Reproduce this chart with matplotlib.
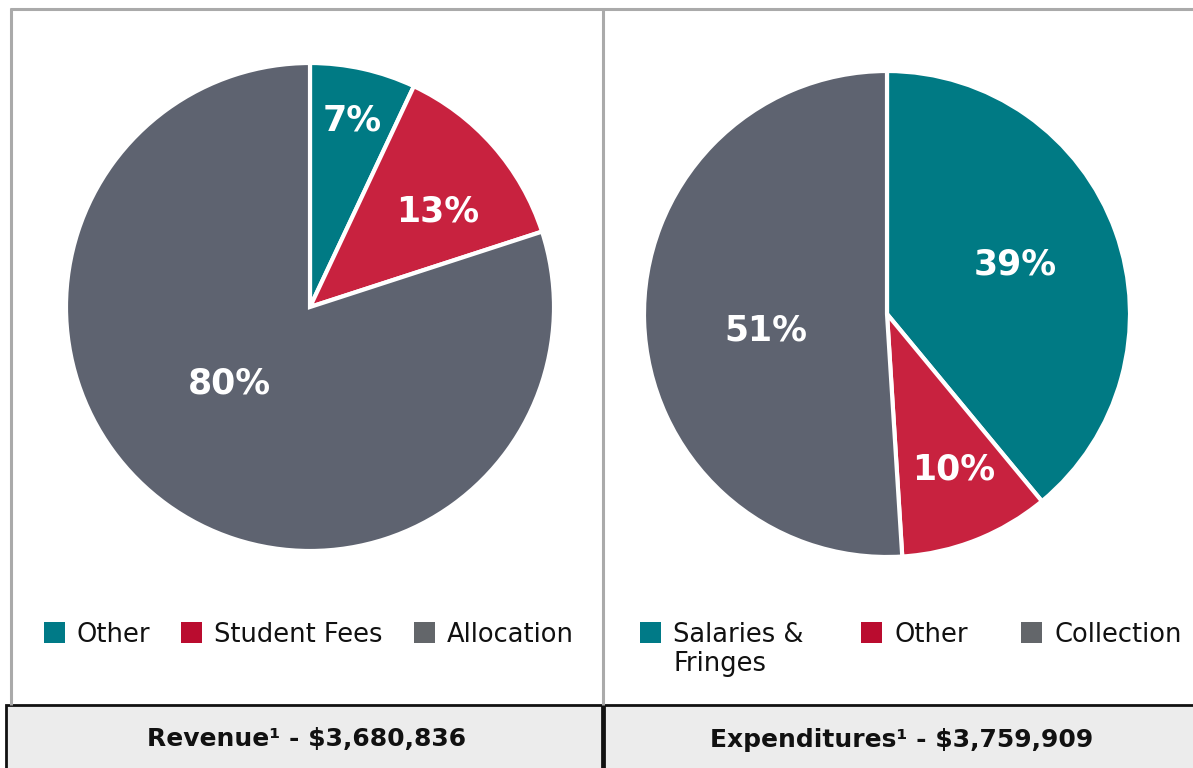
import matplotlib
matplotlib.use("Agg")
import matplotlib.pyplot as plt
from matplotlib.patches import Rectangle
import numpy as np

plt.rcParams['font.family'] = ['DejaVu Sans']

# ---- data ----
rev_labels = ["Other", "Student Fees", "Allocation"]
rev_values = [7, 13, 80]
exp_labels = ["Salaries &\nFringes", "Other", "Collection"]
exp_values = [39, 10, 51]
rev_title = "Revenue\u00b9 - $3,680,836"
exp_title = "Expenditures\u00b9 - $3,759,909"

pie_colors = ["#007a84", "#c8223f", "#5e6370"]
legend_colors = ["#007a87", "#ba0c2f", "#63666a"]

W, H = 1193, 768
fig = plt.figure(figsize=(W / 100, H / 100), dpi=100)
fig.patch.set_facecolor("white")


def fx(x):
    return x / W


def fy(y):
    return 1 - y / H


def pie_panel(cx, cy, r, values, label_pos):
    ax = fig.add_axes([fx(cx - r), fy(cy + r), 2 * r / W, 2 * r / H])
    wedges, _ = ax.pie(values, colors=pie_colors, startangle=90, counterclock=False,
                       wedgeprops=dict(edgecolor="white", linewidth=3))
    ax.set_xlim(-1, 1)
    ax.set_ylim(-1, 1)
    ax.set_aspect("auto")
    ax.axis("off")
    for w, v, (dist, doff) in zip(wedges, values, label_pos):
        mid = np.deg2rad((w.theta1 + w.theta2) / 2 + doff)
        ax.text(dist * np.cos(mid), dist * np.sin(mid) - 0.008, f"{v}%", color="white",
                fontsize=25, fontweight="bold", ha="center", va="center")
    return ax


pie_panel(310, 307, 244, rev_values, [(0.79, 0), (0.66, -4), (0.45, -11)])
pie_panel(887, 314, 243, exp_values, [(0.57, 2), (0.69, 2), (0.50, 5)])

# frame lines
fig.add_artist(plt.Line2D([fx(9.5), fx(1200)], [fy(8.5), fy(8.5)], color="#aaaaaa", lw=2.2,
                          solid_capstyle="butt"))
fig.add_artist(plt.Line2D([fx(10.5), fx(10.5)], [fy(7.5), fy(705)], color="#aaaaaa", lw=2.2,
                          solid_capstyle="butt"))
fig.add_artist(plt.Line2D([fx(603), fx(603)], [fy(7.5), fy(705)], color="#aaaaaa", lw=2.2,
                          solid_capstyle="butt"))


def legend_row(items, xs_sq, y):
    for lab, c, xs in zip(items, legend_colors, xs_sq):
        fig.add_artist(Rectangle((fx(xs), fy(y + 11)), 21 / W, 21 / H, facecolor=c,
                                 edgecolor="none", transform=fig.transFigure))
        for i, line in enumerate(lab.split("\n")):
            fig.text(fx(xs + 33), fy(y + 29 * i), line, fontsize=18.5, color="#111111",
                     ha="left", va="center_baseline")


legend_row(rev_labels, [44, 181, 414], 632)
legend_row(exp_labels, [640, 861, 1021], 632)

# bottom caption boxes
for x0, x1, title in [(6, 602, rev_title), (604, 1196, exp_title)]:
    fig.add_artist(Rectangle((fx(x0), fy(772)), (x1 - x0) / W, (772 - 705) / H,
                             facecolor="#ececec", edgecolor="#111111", lw=2,
                             transform=fig.transFigure))
    fig.text(fx((x0 + min(x1, 1193)) / 2 + 3), fy(737), title, fontsize=18,
             fontweight="bold", color="#111111", ha="center", va="center_baseline")

fig.savefig("out.png", dpi=100, facecolor="white")
